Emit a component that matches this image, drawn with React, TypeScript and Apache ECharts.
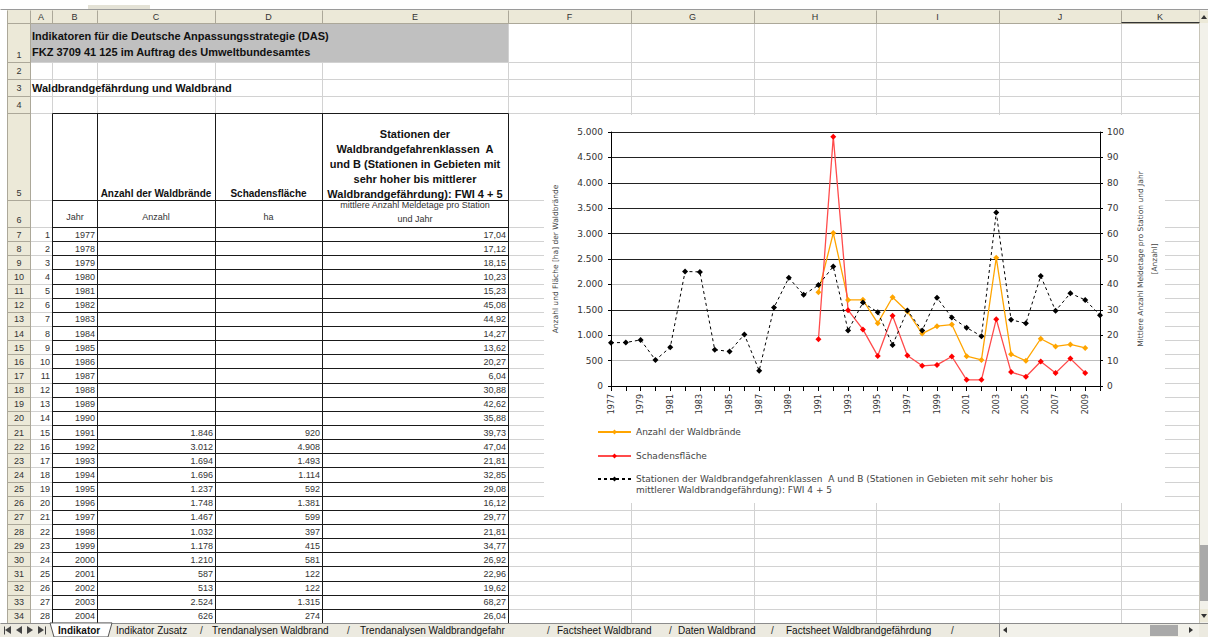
import React, { useEffect, useRef } from "react";
import * as echarts from "echarts";

// ---------------- data ----------------
const years = ["1977","1978","1979","1980","1981","1982","1983","1984","1985","1986","1987","1988","1989","1990","1991","1992","1993","1994","1995","1996","1997","1998","1999","2000","2001","2002","2003","2004","2005","2006","2007","2008","2009","2010"];

const anzahlWaldbraende: (number | null)[] = [null,null,null,null,null,null,null,null,null,null,null,null,null,null,1846,3012,1694,1696,1237,1748,1467,1032,1178,1210,587,513,2524,626,496,930,779,818,750,null];

const schadensflaeche: (number | null)[] = [null,null,null,null,null,null,null,null,null,null,null,null,null,null,920,4908,1493,1114,592,1381,599,397,415,581,122,122,1315,274,183,482,256,539,255,null];

const stationen: number[] = [17.04,17.12,18.15,10.23,15.23,45.08,44.92,14.27,13.62,20.27,6.04,30.88,42.62,35.88,39.73,47.04,21.81,32.85,29.08,16.12,29.77,21.81,34.77,26.92,22.96,19.62,68.27,26.04,24.7,43.3,29.6,36.5,33.9,27.9];

const tableRows = 28; // 1977 .. 2004 visible in the sheet

const columnLetters = ["A","B","C","D","E","F","G","H","I","J","K"];
const titleLines = ["Indikatoren für die Deutsche Anpassungsstrategie (DAS)", "FKZ 3709 41 125 im Auftrag des Umweltbundesamtes"];
const sectionTitle = "Waldbrandgefährdung und Waldbrand";
const headC = "Anzahl der Waldbrände";
const headD = "Schadensfläche";
const headE = ["Stationen der", "Waldbrandgefahrenklassen  A", "und B (Stationen in Gebieten mit", "sehr hoher bis mittlerer", "Waldbrandgefährdung): FWI 4 + 5"];
const unitB = "Jahr";
const unitC = "Anzahl";
const unitD = "ha";
const unitE = ["mittlere Anzahl Meldetage pro Station", "und Jahr"];
const sheetTabs = ["Indikator","Indikator Zusatz","Trendanalysen Waldbrand","Trendanalysen Waldbrandgefahr","Factsheet Waldbrand","Daten Waldbrand","Factsheet Waldbrandgefährdung"];

const S1 = "Anzahl der Waldbrände";
const S2 = "Schadensfläche";
const S3 = "Stationen der Waldbrandgefahrenklassen  A und B (Stationen in Gebieten mit sehr hoher bis mittlerer Waldbrandgefährdung): FWI 4 + 5";
const leftAxisName = "Anzahl und Fläche [ha] der Waldbrände";
const rightAxisName = "Mittlere Anzahl Meldetage pro Station und Jahr\n[Anzahl]";

// ---------------- helpers ----------------
const fmtInt = (v: number) => String(Math.round(v)).replace(/\B(?=(\d{3})+(?!\d))/g, ".");
const fmtDec = (v: number) => v.toFixed(2).replace(".", ",");

const SF = "'Liberation Sans', Arial, sans-serif";
const CF = "'DejaVu Sans', Verdana, sans-serif";

function buildSheet() {
  const els: any[] = [];
  const p = (v: number) => Math.round(v) + 0.5;
  const L = (x1: number, y1: number, x2: number, y2: number, stroke: string, z = 1, lw = 1) =>
    els.push({ type: "line", silent: true, z, shape: { x1: p(x1), y1: p(y1), x2: p(x2), y2: p(y2) }, style: { stroke, lineWidth: lw } });
  const R = (x: number, y: number, w: number, h: number, fill: string, z = 0, stroke: string | null = null) =>
    els.push({ type: "rect", silent: true, z, shape: { x, y, width: w, height: h }, style: { fill, stroke } });
  const T = (text: string, x: number, y: number, o: any = {}) =>
    els.push({
      type: "text", silent: true, z: o.z ?? 3, x, y,
      style: {
        text, fill: o.color || "#111",
        font: `${o.bold ? "bold " : ""}${o.size || 9}px ${o.font || SF}`,
        align: o.align || "left", verticalAlign: "middle",
        textAlign: o.align || "left", textVerticalAlign: "middle",
      },
    });
  const tri = (pts: number[][], fill: string, z = 9) =>
    els.push({ type: "polygon", silent: true, z, shape: { points: pts }, style: { fill } });

  const colB = [30, 52, 97, 215, 322, 508, 631, 754, 876, 999, 1121, 1199];
  const rowB: number[] = [23, 62, 79, 96, 113, 200, 227];
  for (let k = 1; k <= tableRows; k++) rowB.push(227 + k * 14.14);
  const bottom = rowB[rowB.length - 1];

  const GRID = "#D2D2D2";
  const HDR = "#ECE9D8";
  const HSEP = "#ACA899";

  // background
  R(0, 0, 1208, 637, "#ffffff", 0);
  // row 1 grey merged cell
  R(colB[0], rowB[0], colB[5] - colB[0], rowB[1] - rowB[0], "#C0C0C0", 0);

  // light grid lines
  for (let i = 1; i < rowB.length; i++) L(colB[0], rowB[i], colB[11], rowB[i], GRID, 1);
  for (let i = 1; i <= 4; i++) L(colB[i], rowB[1], colB[i], bottom, GRID, 1);
  for (let i = 5; i <= 11; i++) L(colB[i], rowB[0], colB[i], bottom, GRID, 1);

  // black table borders
  const BL = "#1a1a1a";
  for (let i = 1; i <= 5; i++) L(colB[i], rowB[4], colB[i], bottom, BL, 2);
  for (let i = 4; i < rowB.length; i++) L(colB[1], rowB[i], colB[5], rowB[i], BL, 2);

  // chart area background
  R(544, 115, 621, 388, "#ffffff", 5);

  // top strip
  L(0, 9, 1208, 9, "#9a9a9a", 6);
  R(88, 5, 62, 4, "#E4E2D6", 6);
  // column header
  R(7, 10, 1192, 13, HDR, 6);
  L(7, 23, 1199, 23, HSEP, 7);
  L(7, 10, 7, bottom, HSEP, 7);
  for (let i = 0; i < colB.length; i++) L(colB[i], 10, colB[i], 23, HSEP, 7);
  for (let c = 0; c < columnLetters.length; c++) {
    T(columnLetters[c], (colB[c] + colB[c + 1]) / 2, 16.5, { size: 9, align: "center", color: "#333", z: 8 });
  }
  L(1121, 22, 1199, 22, "#333", 8);
  // row header
  R(7, 23, 23, bottom - 23, HDR, 6);
  L(30, 23, 30, bottom, HSEP, 7);
  for (let r = 1; r < rowB.length; r++) {
    L(7, rowB[r], 30, rowB[r], HSEP, 7);
    const top = rowB[r - 1], bot = rowB[r];
    const tall = bot - top > 20;
    T(String(r), 19, tall ? bot - 7 : (top + bot) / 2 + 0.5, { size: 9, align: "center", color: "#333", z: 8 });
  }

  // titles
  T(titleLines[0], 32, 36, { bold: true, size: 11 });
  T(titleLines[1], 32, 52, { bold: true, size: 11 });
  T(sectionTitle, 32, 88, { bold: true, size: 11 });

  // header row 5
  T(headC, 156, 193, { bold: true, size: 10, align: "center" });
  T(headD, 268.5, 193, { bold: true, size: 10, align: "center" });
  headE.forEach((s, i) => T(s, 415, 134 + i * 15, { bold: true, size: 11, align: "center" }));
  // row 6 units
  T(unitB, 75, 217, { size: 9, align: "center", color: "#333" });
  T(unitC, 156, 217, { size: 9, align: "center", color: "#333" });
  T(unitD, 268.5, 217, { size: 9, align: "center", color: "#333" });
  T(unitE[0], 415, 205, { size: 9, align: "center", color: "#333" });
  T(unitE[1], 415, 218.5, { size: 9, align: "center", color: "#333" });

  // data rows
  for (let i = 0; i < tableRows; i++) {
    const yc = 227 + i * 14.14 + 7.6;
    T(String(i + 1), 50, yc, { size: 9, align: "right", color: "#333" });
    T(years[i], 95, yc, { size: 9, align: "right", color: "#333" });
    const a = anzahlWaldbraende[i];
    const f = schadensflaeche[i];
    if (a != null) T(fmtInt(a), 213, yc, { size: 9, align: "right", color: "#333" });
    if (f != null) T(fmtInt(f), 320, yc, { size: 9, align: "right", color: "#333" });
    T(fmtDec(stationen[i]), 506, yc, { size: 9, align: "right", color: "#333" });
  }

  // vertical scrollbar
  R(1199, 10, 9, bottom - 10, "#F2F1EA", 6);
  L(1199, 10, 1199, bottom, "#C8C5B8", 7);
  R(1200, 11, 8, 12, HDR, 7);
  tri([[1201, 19], [1207, 19], [1204, 15]], "#333");
  R(1200, 545, 8, 56, "#A9A9A9", 7);
  R(1200, 609, 8, 13, HDR, 7);
  tri([[1201, 614], [1207, 614], [1204, 618]], "#333");

  // tab bar
  R(0, bottom, 1208, 637 - bottom, "#ECEAE0", 6);
  L(0, bottom, 1208, bottom, "#8c8c8c", 7);
  // nav buttons
  tri([[5, 630], [11, 626], [11, 634]], "#444");
  L(4, 626, 4, 634, "#444", 9);
  tri([[16, 630], [22, 626], [22, 634]], "#444");
  tri([[33, 630], [27, 626], [27, 634]], "#444");
  tri([[44, 630], [38, 626], [38, 634]], "#444");
  L(45, 626, 45, 634, "#444", 9);
  // active tab
  els.push({ type: "polygon", silent: true, z: 7, shape: { points: [[50, bottom], [112, bottom], [108, 637], [54, 637]] }, style: { fill: "#ffffff", stroke: "#555", lineWidth: 1 } });
  const tabX = [58, 116, 212, 360, 557, 678, 786];
  const sepX = [200, 347, 547, 669, 771, 951];
  sheetTabs.forEach((s, i) => T(s, tabX[i], 630.5, { size: 10, bold: i === 0, color: "#111", z: 9 }));
  sepX.forEach((x) => T("/", x, 630.5, { size: 10, color: "#333", z: 9 }));
  // horizontal scrollbar
  R(999, bottom + 1, 200, 637 - bottom - 1, "#F2F1EA", 8);
  L(999, bottom, 999, 637, "#8c8c8c", 9);
  tri([[1003, 630], [1007, 627], [1007, 633]], "#333");
  R(1150, bottom + 2, 28, 637 - bottom - 3, "#A9A9A9", 9);
  tri([[1193, 630], [1189, 627], [1189, 633]], "#333");

  return els;
}

const leftSplitColors = ["#000000", "#BDBDBD", "#BDBDBD", "#222222", "#BDBDBD", "#222222", "#222222", "#222222", "#222222", "#222222", "#222222"];

function buildOption() {
  const legendText = { fontSize: 9, color: "#444", fontFamily: CF, lineHeight: 11 };
  const legendBase = {
    orient: "vertical", left: 597, padding: 0, itemWidth: 33, itemHeight: 6, itemGap: 10,
    selectedMode: false, z: 12, textStyle: legendText,
  };
  return {
    animation: false,
    backgroundColor: "transparent",
    textStyle: { fontFamily: CF },
    graphic: { elements: buildSheet() },
    grid: { left: 611, right: 108, top: 132, bottom: 251, containLabel: false, z: 10 },
    legend: [
      { ...legendBase, top: 426.5, data: [S1] },
      { ...legendBase, top: 450.5, data: [S2] },
      {
        ...legendBase, top: 462.5, data: [S3],
        // leading empty line puts the first text line level with the icon
        formatter: (n: string) => "\n" + n.replace(" mittlerer", "\nmittlerer"),
      },
    ],
    xAxis: {
      type: "category", data: years, boundaryGap: false, z: 10,
      axisLine: { show: true, lineStyle: { color: "#000", width: 1 } },
      axisTick: { show: true, interval: 0, length: 5, inside: false, lineStyle: { color: "#000" } },
      axisLabel: { interval: 1, rotate: 90, fontSize: 8, color: "#333", margin: 8, fontFamily: CF },
      splitLine: { show: false },
    },
    yAxis: [
      {
        type: "value", min: 0, max: 5000, interval: 500, position: "left", z: 10,
        axisLine: { show: true, lineStyle: { color: "#000" } },
        axisTick: { show: true, length: 3, lineStyle: { color: "#000" } },
        axisLabel: { formatter: (v: number) => fmtInt(v), fontSize: 9, color: "#333", margin: 8, fontFamily: CF },
        splitLine: { show: true, lineStyle: { color: leftSplitColors, width: 1 } },
        name: leftAxisName, nameLocation: "middle", nameRotate: 90, nameGap: 52, nameMoveOverlap: false,
        nameTextStyle: { fontSize: 7.5, color: "#444", fontFamily: CF },
      },
      {
        type: "value", min: 0, max: 100, interval: 10, position: "right", z: 10,
        axisLine: { show: true, lineStyle: { color: "#000" } },
        axisTick: { show: true, length: 3, lineStyle: { color: "#000" } },
        axisLabel: { fontSize: 9, color: "#333", margin: 7, fontFamily: CF },
        splitLine: { show: false },
        name: rightAxisName, nameLocation: "middle", nameRotate: 90, nameGap: 33, nameMoveOverlap: false,
        nameTextStyle: { fontSize: 7.5, color: "#444", fontFamily: CF, lineHeight: 14 },
      },
    ],
    series: [
      {
        name: S1, type: "line", yAxisIndex: 0, data: anzahlWaldbraende, z: 12,
        symbol: "diamond", symbolSize: 6, connectNulls: false,
        lineStyle: { color: "#FFA500", width: 1.3 }, itemStyle: { color: "#FFA500" },
        emphasis: { disabled: true },
      },
      {
        name: S2, type: "line", yAxisIndex: 0, data: schadensflaeche, z: 12,
        symbol: "diamond", symbolSize: 6, connectNulls: false,
        lineStyle: { color: "#FF4B4B", width: 1.3 }, itemStyle: { color: "#FF0000" },
        emphasis: { disabled: true },
      },
      {
        name: S3, type: "line", yAxisIndex: 1, data: stationen, z: 13,
        symbol: "diamond", symbolSize: 6,
        lineStyle: { color: "#000", width: 1, type: [3, 3] }, itemStyle: { color: "#000" },
        emphasis: { disabled: true },
      },
    ],
  };
}

export default function App() {
  const ref = useRef<HTMLDivElement>(null);
  useEffect(() => {
    if (!ref.current) return;
    const chart = echarts.init(ref.current, undefined, { renderer: "svg", width: 1208, height: 637 });
    chart.setOption(buildOption() as any);
    return () => chart.dispose();
  }, []);
  return <div ref={ref} style={{ position: "fixed", left: 0, top: 0, width: 1208, height: 637, background: "#fff" }} />;
}
